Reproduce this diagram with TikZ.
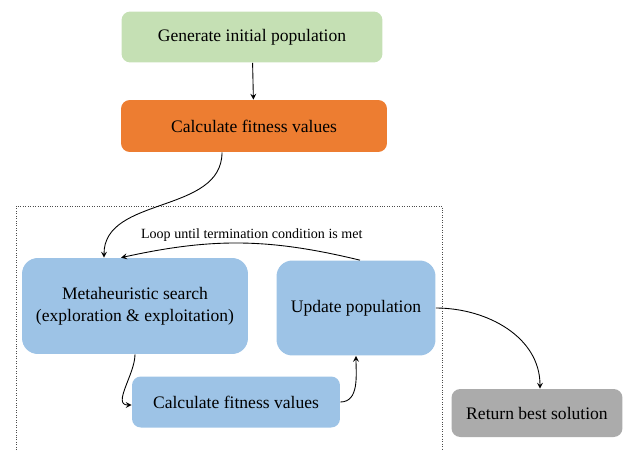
\documentclass[tikz,border=0pt]{standalone}
\usepackage{fontspec}
\setmainfont{Liberation Serif}
\definecolor{boxgreen}{HTML}{C5E0B4}
\definecolor{boxorange}{HTML}{ED7D31}
\definecolor{boxblue}{HTML}{9DC3E6}
\definecolor{boxgray}{HTML}{ABABAB}
\tikzset{
  stepbox/.style={rounded corners=5pt, align=center, font=\fontsize{10}{12.5}\selectfont, inner sep=2pt},
  flow/.style={->, >=stealth, semithin, black}
}
\tikzset{semithin/.style={line width=0.5pt}}
\begin{document}
\begin{tikzpicture}[x=0.02cm, y=-0.02cm]
        \useasboundingbox (0,0) rectangle (629,450);
        \node[stepbox, fill=boxgreen, minimum width=5.22cm, minimum height=1.02cm] (gen) at (252,37) {Generate initial population};
        \node[stepbox, fill=boxorange, minimum width=5.32cm, minimum height=1.04cm] (fit) at (254,126) {Calculate fitness values};
        \draw[densely dotted, gray!60!black] (16,450) -- (16,206) -- (442,206) -- (442,450);
        \node[stepbox, fill=boxblue, minimum width=4.52cm, minimum height=1.92cm, rounded corners=9pt] (meta) at (135,306) {Metaheuristic search\\(exploration \& exploitation)};
        \node[stepbox, fill=boxblue, minimum width=3.18cm, minimum height=1.90cm, rounded corners=9pt] (upd) at (356,308) {Update population};
        \node[stepbox, fill=boxblue, minimum width=4.16cm, minimum height=1.02cm] (fitb) at (236,402) {Calculate fitness values};
        \node[stepbox, fill=boxgray, minimum width=3.42cm, minimum height=0.96cm] (best) at (537,413) {Return best solution};
        \draw[flow] (gen) -- (fit);
        \draw[flow] ([xshift=-0.64cm]fit.south) to[out=-90, in=90] ([xshift=-0.62cm]meta.north);
        \draw[flow] ([xshift=0.08cm]upd.north) to[bend right=13] node[above, font=\fontsize{8}{10}\selectfont, pos=0.45, inner sep=1pt] {Loop until termination condition is met} ([xshift=-0.28cm]meta.north);
        \draw[flow] (meta.south) to[out=-90, in=180] ([yshift=-0.06cm]fitb.west);
        \draw[flow] (fitb.east) to[out=0, in=-90] (upd.south);
        \draw[flow] (upd.east) to[out=0, in=90] ([xshift=0.06cm]best.north);
\end{tikzpicture}
\end{document}
